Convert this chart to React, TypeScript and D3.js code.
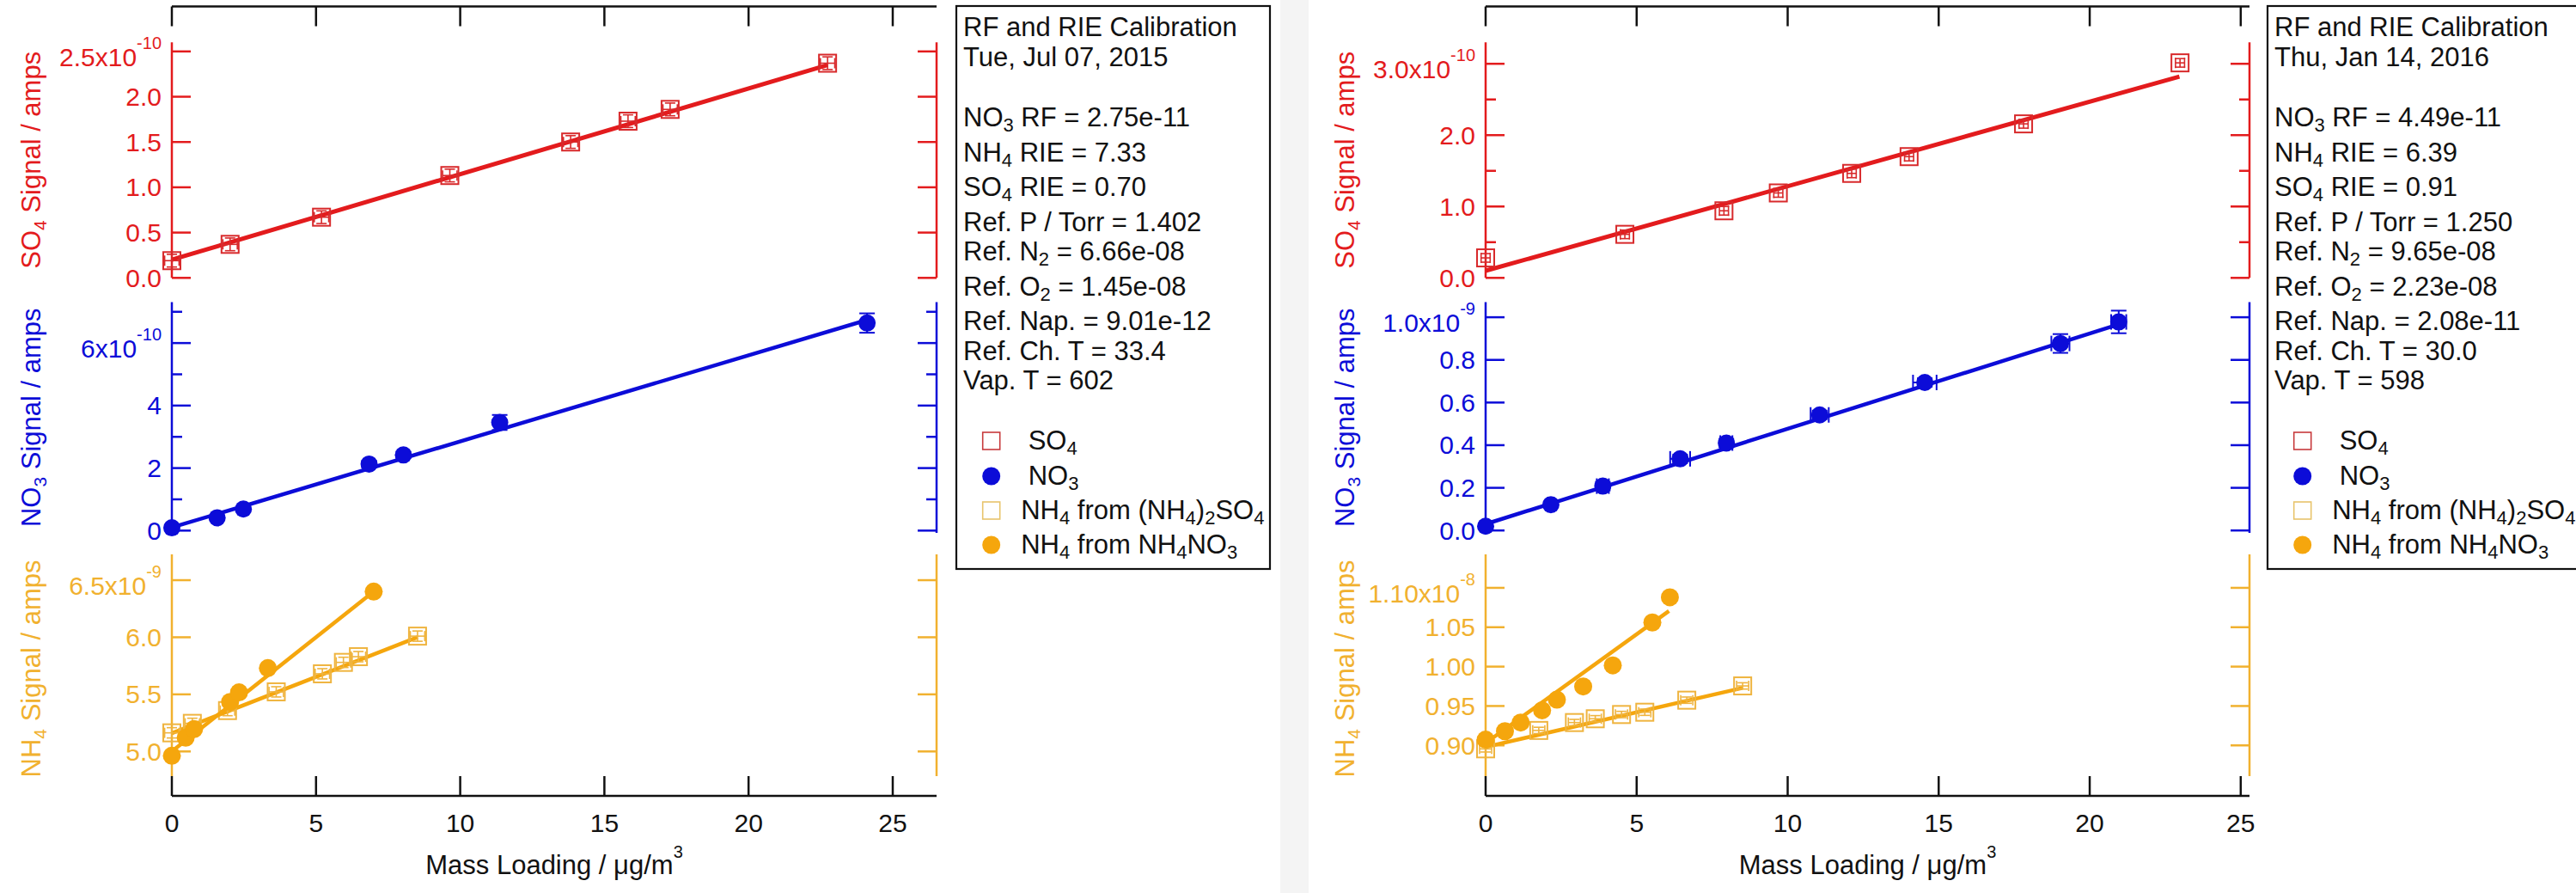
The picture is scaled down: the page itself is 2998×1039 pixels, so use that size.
import React from "react";
import * as d3 from "d3";

// ================= DATA =================
// x = Mass Loading / ug m-3
// ---- Left panel: Tue, Jul 07, 2015 ----
const L_SO4_X = [0.0, 2.02, 5.19, 9.64, 13.83, 15.82, 17.28, 22.74];
const L_SO4_Y = [0.19, 0.37, 0.67, 1.13, 1.5, 1.73, 1.86, 2.37]; // x1e-10 A
const L_SO4_XERR = [0.25, 0.25, 0.25, 0.25, 0.25, 0.25, 0.25, 0.25];
const L_SO4_YERR = [0.07, 0.07, 0.07, 0.07, 0.07, 0.07, 0.07, 0.07];
const L_SO4_FIT_X = [0, 22.74];
const L_SO4_FIT_Y = [0.2, 2.35];

const L_NO3_X = [0.0, 1.57, 2.48, 6.84, 8.03, 11.37, 24.11];
const L_NO3_Y = [0.09, 0.41, 0.69, 2.13, 2.42, 3.46, 6.64]; // x1e-10 A
const L_NO3_XERR = [0.05, 0.05, 0.05, 0.05, 0.05, 0.05, 0.05];
const L_NO3_YERR = [0.05, 0.05, 0.05, 0.1, 0.1, 0.24, 0.31];
const L_NO3_FIT_X = [0, 24.11];
const L_NO3_FIT_Y = [0.1, 6.74];

const L_NH4S_X = [0.0, 0.71, 1.93, 3.62, 5.22, 5.95, 6.47, 8.52];
const L_NH4S_Y = [5.163, 5.246, 5.358, 5.522, 5.68, 5.78, 5.83, 6.01]; // x1e-9 A
const L_NH4S_XERR = [0.25, 0.25, 0.25, 0.25, 0.25, 0.25, 0.25, 0.25];
const L_NH4S_YERR = [0.045, 0.045, 0.045, 0.045, 0.045, 0.045, 0.045, 0.045];
const L_NH4S_FIT_X = [0, 8.52];
const L_NH4S_FIT_Y = [5.16, 6.0];

const L_NH4N_X = [0.0, 0.48, 0.77, 2.02, 2.33, 3.33, 7.0];
const L_NH4N_Y = [4.962, 5.12, 5.196, 5.434, 5.517, 5.73, 6.4]; // x1e-9 A
const L_NH4N_XERR = [0.05, 0.05, 0.05, 0.05, 0.05, 0.05, 0.05];
const L_NH4N_YERR = [0.02, 0.02, 0.02, 0.02, 0.02, 0.02, 0.03];
const L_NH4N_FIT_X = [0, 7.0];
const L_NH4N_FIT_Y = [5.0, 6.4];

// ---- Right panel: Thu, Jan 14, 2016 ----
const R_SO4_X = [0.0, 4.61, 7.89, 9.69, 12.12, 14.02, 17.81, 22.99];
const R_SO4_Y = [0.28, 0.61, 0.94, 1.19, 1.464, 1.699, 2.158, 3.013]; // x1e-10 A
const R_SO4_XERR = [0.15, 0.15, 0.15, 0.15, 0.15, 0.15, 0.15, 0.15];
const R_SO4_YERR = [0.06, 0.06, 0.06, 0.06, 0.06, 0.06, 0.06, 0.06];
const R_SO4_FIT_X = [0, 22.97];
const R_SO4_FIT_Y = [0.1, 2.82];

const R_NO3_X = [0.0, 2.16, 3.88, 6.44, 7.97, 11.06, 14.54, 19.03, 20.96];
const R_NO3_Y = [0.02, 0.121, 0.208, 0.336, 0.41, 0.542, 0.694, 0.877, 0.978]; // x1e-9 A
const R_NO3_XERR = [0.05, 0.1, 0.2, 0.33, 0.2, 0.3, 0.39, 0.3, 0.25];
const R_NO3_YERR = [0.005, 0.01, 0.02, 0.02, 0.02, 0.02, 0.02, 0.044, 0.053];
const R_NO3_FIT_X = [0, 20.96];
const R_NO3_FIT_Y = [0.03, 0.967];

const R_NH4S_X = [0.0, 1.76, 2.94, 3.63, 4.5, 5.27, 6.66, 8.51];
const R_NH4S_Y = [0.8956, 0.919, 0.929, 0.9338, 0.9392, 0.9421, 0.9574, 0.9755]; // x1e-8 A
const R_NH4S_XERR = [0.2, 0.2, 0.2, 0.2, 0.2, 0.2, 0.2, 0.2];
const R_NH4S_YERR = [0.004, 0.004, 0.004, 0.004, 0.004, 0.004, 0.004, 0.004];
const R_NH4S_FIT_X = [0, 8.51];
const R_NH4S_FIT_Y = [0.898, 0.973];

const R_NH4N_X = [0.0, 0.64, 1.16, 1.87, 2.36, 3.23, 4.21, 5.52, 6.1];
const R_NH4N_Y = [0.9073, 0.918, 0.929, 0.9446, 0.958, 0.9748, 1.0016, 1.056, 1.088]; // x1e-8 A
const R_NH4N_XERR = [0.05, 0.05, 0.05, 0.05, 0.05, 0.05, 0.05, 0.05, 0.1];
const R_NH4N_YERR = [0.002, 0.002, 0.002, 0.002, 0.002, 0.002, 0.002, 0.002, 0.004];
const R_NH4N_FIT_X = [0, 6.07];
const R_NH4N_FIT_Y = [0.903, 1.0706];

// ---- Axis ticks and labels ----
const X_TICKS = [0, 5, 10, 15, 20, 25];
const X_LABELS = ["0", "5", "10", "15", "20", "25"];

const L_SO4_TICKS = [0, 0.5, 1.0, 1.5, 2.0, 2.5];
const L_SO4_LABELS = ["0.0", "0.5", "1.0", "1.5", "2.0", "2.5x10^{-10}"];
const L_SO4_MINOR: number[] = [];
const L_NO3_TICKS = [0, 2, 4, 6];
const L_NO3_LABELS = ["0", "2", "4", "6x10^{-10}"];
const L_NO3_MINOR = [1, 3, 5, 7];
const L_NH4_TICKS = [5.0, 5.5, 6.0, 6.5];
const L_NH4_LABELS = ["5.0", "5.5", "6.0", "6.5x10^{-9}"];
const L_NH4_MINOR: number[] = [];

const R_SO4_TICKS = [0, 1, 2, 3];
const R_SO4_LABELS = ["0.0", "1.0", "2.0", "3.0x10^{-10}"];
const R_SO4_MINOR = [0.5, 1.5, 2.5];
const R_NO3_TICKS = [0, 0.2, 0.4, 0.6, 0.8, 1.0];
const R_NO3_LABELS = ["0.0", "0.2", "0.4", "0.6", "0.8", "1.0x10^{-9}"];
const R_NO3_MINOR: number[] = [];
const R_NH4_TICKS = [0.9, 0.95, 1.0, 1.05, 1.1];
const R_NH4_LABELS = ["0.90", "0.95", "1.00", "1.05", "1.10x10^{-8}"];
const R_NH4_MINOR: number[] = [];

// ---- Legend texts ----
const L_HEADER = ["RF and RIE Calibration", "Tue, Jul 07, 2015"];
const L_INFO = [
  "NO_3 RF = 2.75e-11",
  "NH_4 RIE = 7.33",
  "SO_4 RIE = 0.70",
  "Ref. P / Torr = 1.402",
  "Ref. N_2 = 6.66e-08",
  "Ref. O_2 = 1.45e-08",
  "Ref. Nap. = 9.01e-12",
  "Ref. Ch. T = 33.4",
  "Vap. T = 602",
];
const R_HEADER = ["RF and RIE Calibration", "Thu, Jan 14, 2016"];
const R_INFO = [
  "NO_3 RF = 4.49e-11",
  "NH_4 RIE = 6.39",
  "SO_4 RIE = 0.91",
  "Ref. P / Torr = 1.250",
  "Ref. N_2 = 9.65e-08",
  "Ref. O_2 = 2.23e-08",
  "Ref. Nap. = 2.08e-11",
  "Ref. Ch. T = 30.0",
  "Vap. T = 598",
];
const LEGEND_NAMES = ["SO_4", "NO_3", "NH_4 from (NH_4)_2SO_4", "NH_4 from NH_4NO_3"];

// ================= STYLE =================
const FONT = "'Liberation Sans', Arial, Helvetica, sans-serif";
const RED = "#e31b1d";
const RED_MK = "#d82a2c";
const BLUE = "#0c0cd8";
const ORANGE = "#f5a60d";
const ORANGE_AX = "#f1b12f";
const ORANGE_SQ = "#efb43f";
const BLACK = "#111";

// ================= HELPERS =================
type Tok = { t: string; k: "n" | "sub" | "sup" };
function parseRich(s: string): Tok[] {
  const out: Tok[] = [];
  let buf = "";
  let i = 0;
  while (i < s.length) {
    const c = s[i];
    if (c === "_") {
      if (buf) out.push({ t: buf, k: "n" });
      buf = "";
      out.push({ t: s[i + 1], k: "sub" });
      i += 2;
      continue;
    }
    if (c === "^" && s[i + 1] === "{") {
      const j = s.indexOf("}", i);
      if (buf) out.push({ t: buf, k: "n" });
      buf = "";
      out.push({ t: s.slice(i + 2, j), k: "sup" });
      i = j + 1;
      continue;
    }
    buf += c;
    i++;
  }
  if (buf) out.push({ t: buf, k: "n" });
  return out;
}

function Rich(props: {
  s: string;
  x: number;
  y: number;
  fs: number;
  smallFs: number;
  subDy: number;
  supDy: number;
  fill: string;
  anchor?: string;
  transform?: string;
}) {
  const toks = parseRich(props.s);
  let cur = 0;
  return (
    <text
      x={props.x}
      y={props.y}
      fontSize={props.fs}
      fill={props.fill}
      textAnchor={props.anchor || "start"}
      fontFamily={FONT}
      transform={props.transform}
      style={{ whiteSpace: "pre" }}
    >
      {toks.map((tk, i) => {
        const want = tk.k === "sub" ? props.subDy : tk.k === "sup" ? -props.supDy : 0;
        const dy = want - cur;
        cur = want;
        return (
          <tspan key={i} dy={dy} fontSize={tk.k === "n" ? props.fs : props.smallFs}>
            {tk.t}
          </tspan>
        );
      })}
    </text>
  );
}

type Scale = d3.ScaleLinear<number, number>;

function YAxis(props: {
  x: number;
  scale: Scale;
  color: string;
  major: number[];
  minor: number[];
  labels?: string[];
  side: "left" | "right";
}) {
  const { x, scale, color, major, minor, labels, side } = props;
  const dir = side === "left" ? 1 : -1;
  const [r0, r1] = scale.range();
  return (
    <g>
      <g stroke={color} strokeWidth={2.5} fill="none">
        <line x1={x} x2={x} y1={r0} y2={r1} />
        {major.map((v) => (
          <line key={"M" + v} x1={x} x2={x + dir * 22} y1={scale(v)} y2={scale(v)} />
        ))}
        {minor.map((v) => (
          <line key={"m" + v} x1={x} x2={x + dir * 12} y1={scale(v)} y2={scale(v)} />
        ))}
      </g>
      {labels &&
        labels.map((lab, i) => {
          const y = scale(major[i]);
          const exp = lab.includes("^");
          return (
            <Rich
              key={"l" + i}
              s={lab}
              x={x - 12}
              y={y + (exp ? 17 : 10.5)}
              fs={30}
              smallFs={20}
              subDy={6}
              supDy={20}
              fill={color}
              anchor="end"
            />
          );
        })}
    </g>
  );
}

function Series(props: {
  xs: Scale;
  ys: Scale;
  X: number[];
  Y: number[];
  XE: number[];
  YE: number[];
  FX: number[];
  FY: number[];
  color: string;
  mkColor: string;
  marker: "square" | "circle";
  lineW: number;
  r: number;
}) {
  const { xs, ys, X, Y, XE, YE, FX, FY, color, mkColor, marker, lineW, r } = props;
  const line = d3
    .line<number>()
    .x((_, i) => xs(FX[i]))
    .y((d) => ys(d));
  const cap = marker === "square" ? 6 : 9;
  return (
    <g>
      <path d={line(FY) || ""} stroke={color} strokeWidth={lineW} fill="none" />
      <g stroke={mkColor} strokeWidth={marker === "square" ? 1.6 : 2} fill="none">
        {X.map((xv, i) => {
          const cx = xs(xv);
          const cy = ys(Y[i]);
          const y0 = ys(Y[i] - YE[i]);
          const y1 = ys(Y[i] + YE[i]);
          const x0 = xs(xv - XE[i]);
          const x1 = xs(xv + XE[i]);
          return (
            <g key={i}>
              <line x1={cx} x2={cx} y1={y0} y2={y1} />
              <line x1={cx - cap} x2={cx + cap} y1={y0} y2={y0} />
              <line x1={cx - cap} x2={cx + cap} y1={y1} y2={y1} />
              <line x1={x0} x2={x1} y1={cy} y2={cy} />
              <line x1={x0} x2={x0} y1={cy - cap} y2={cy + cap} />
              <line x1={x1} x2={x1} y1={cy - cap} y2={cy + cap} />
            </g>
          );
        })}
      </g>
      {X.map((xv, i) => {
        const cx = xs(xv);
        const cy = ys(Y[i]);
        return marker === "circle" ? (
          <circle key={"c" + i} cx={cx} cy={cy} r={r} fill={mkColor} />
        ) : (
          <rect
            key={"s" + i}
            x={cx - r}
            y={cy - r}
            width={2 * r}
            height={2 * r}
            fill="none"
            stroke={mkColor}
            strokeWidth={2}
          />
        );
      })}
    </g>
  );
}

type AxisCfg = { domain: [number, number]; major: number[]; minor: number[]; labels: string[] };

function Panel(props: {
  x0: number;
  x1: number;
  xMax: number;
  so4: AxisCfg;
  no3: AxisCfg;
  nh4: AxisCfg;
  legendX: number;
  legendW: number;
  header: string[];
  info: string[];
  data: any;
}) {
  const { x0, x1, xMax, so4, no3, nh4, legendX, legendW, header, info, data } = props;
  const xs = d3.scaleLinear().domain([0, xMax]).range([x0, x1]);
  const yS = d3.scaleLinear().domain(so4.domain).range([323.3, 49.3]);
  const yN = d3.scaleLinear().domain(no3.domain).range([620, 351.5]);
  const yA = d3.scaleLinear().domain(nh4.domain).range([903, 645]);
  const xAxisY = 926;
  const topY = 7.5;
  const titleX = x0 - 164;

  // legend lines baselines
  const infoY: number[] = [];
  let yy = 147;
  info.forEach((s, i) => {
    if (i > 0) yy += 34.5 + (info[i - 1].includes("_") ? 6 : 0);
    infoY.push(yy);
  });
  const legSymX = legendX + 40.7;
  const legRowY = [513, 554, 594, 634];
  const LFS = 31;

  return (
    <g>
      {/* top & bottom axes */}
      <g stroke={BLACK} strokeWidth={2.5}>
        <line x1={x0} x2={x1} y1={topY} y2={topY} />
        <line x1={x0} x2={x1} y1={xAxisY} y2={xAxisY} />
        {X_TICKS.map((t) => (
          <g key={t}>
            <line x1={xs(t)} x2={xs(t)} y1={topY} y2={topY + 23} />
            <line x1={xs(t)} x2={xs(t)} y1={xAxisY} y2={xAxisY - 23} />
          </g>
        ))}
      </g>
      {X_TICKS.map((t, i) => (
        <text
          key={"xl" + t}
          x={xs(t)}
          y={968}
          fontSize={30}
          textAnchor="middle"
          fontFamily={FONT}
          fill={BLACK}
        >
          {X_LABELS[i]}
        </text>
      ))}
      <Rich
        s={"Mass Loading / \u03bcg/m^{3}"}
        x={(x0 + x1) / 2}
        y={1017}
        fs={31}
        smallFs={20}
        subDy={6}
        supDy={19}
        fill={BLACK}
        anchor="middle"
      />

      {/* y axes */}
      <YAxis x={x0} scale={yS} color={RED} major={so4.major} minor={so4.minor} labels={so4.labels} side="left" />
      <YAxis x={x1} scale={yS} color={RED} major={so4.major} minor={so4.minor} side="right" />
      <YAxis x={x0} scale={yN} color={BLUE} major={no3.major} minor={no3.minor} labels={no3.labels} side="left" />
      <YAxis x={x1} scale={yN} color={BLUE} major={no3.major} minor={no3.minor} side="right" />
      <YAxis x={x0} scale={yA} color={ORANGE_AX} major={nh4.major} minor={nh4.minor} labels={nh4.labels} side="left" />
      <YAxis x={x1} scale={yA} color={ORANGE_AX} major={nh4.major} minor={nh4.minor} side="right" />

      {/* axis titles */}
      {[
        { s: "SO_4 Signal / amps", c: RED, y: (323.3 + 49.3) / 2 },
        { s: "NO_3 Signal / amps", c: BLUE, y: (620 + 351.5) / 2 },
        { s: "NH_4 Signal / amps", c: ORANGE_AX, y: (903 + 645) / 2 + 4 },
      ].map((t) => (
        <Rich
          key={t.s}
          s={t.s}
          x={0}
          y={0}
          fs={31}
          smallFs={21}
          subDy={7}
          supDy={18}
          fill={t.c}
          anchor="middle"
          transform={`translate(${titleX + 11},${t.y}) rotate(-90)`}
        />
      ))}

      {/* data */}
      <Series xs={xs} ys={yS} {...data.so4} color={RED} mkColor={RED_MK} marker="square" lineW={5} r={10} />
      <Series xs={xs} ys={yN} {...data.no3} color={BLUE} mkColor={BLUE} marker="circle" lineW={4.5} r={10} />
      <Series xs={xs} ys={yA} {...data.nh4s} color={ORANGE} mkColor={ORANGE_SQ} marker="square" lineW={4.5} r={10} />
      <Series xs={xs} ys={yA} {...data.nh4n} color={ORANGE} mkColor={ORANGE} marker="circle" lineW={4.5} r={10.5} />

      {/* legend box */}
      <rect x={legendX} y={7} width={legendW} height={655} fill="white" stroke={BLACK} strokeWidth={2.2} />
      <text x={legendX + 8} y={41.5} fontSize={LFS} fontFamily={FONT} fill={BLACK}>
        {header[0]}
      </text>
      <text x={legendX + 8} y={76.5} fontSize={LFS} fontFamily={FONT} fill={BLACK}>
        {header[1]}
      </text>
      {info.map((s, i) => (
        <Rich key={s} s={s} x={legendX + 8} y={infoY[i]} fs={LFS} smallFs={22} subDy={6} supDy={18} fill={BLACK} />
      ))}
      {/* legend entries */}
      <rect x={legSymX - 10} y={legRowY[0] - 10} width={20} height={20} fill="none" stroke="#c73a3c" strokeWidth={1.6} />
      <circle cx={legSymX} cy={legRowY[1]} r={10.5} fill={BLUE} />
      <rect x={legSymX - 10} y={legRowY[2] - 10} width={20} height={20} fill="none" stroke="#e8c46c" strokeWidth={1.6} />
      <circle cx={legSymX} cy={legRowY[3]} r={10.5} fill={ORANGE} />
      {LEGEND_NAMES.map((s, i) => (
        <Rich
          key={s}
          s={s}
          x={legSymX + (i < 2 ? 43 : 34.5)}
          y={legRowY[i] + 10}
          fs={LFS}
          smallFs={22}
          subDy={6}
          supDy={18}
          fill={BLACK}
        />
      ))}
    </g>
  );
}

export default function App() {
  const leftData = {
    so4: { X: L_SO4_X, Y: L_SO4_Y, XE: L_SO4_XERR, YE: L_SO4_YERR, FX: L_SO4_FIT_X, FY: L_SO4_FIT_Y },
    no3: { X: L_NO3_X, Y: L_NO3_Y, XE: L_NO3_XERR, YE: L_NO3_YERR, FX: L_NO3_FIT_X, FY: L_NO3_FIT_Y },
    nh4s: { X: L_NH4S_X, Y: L_NH4S_Y, XE: L_NH4S_XERR, YE: L_NH4S_YERR, FX: L_NH4S_FIT_X, FY: L_NH4S_FIT_Y },
    nh4n: { X: L_NH4N_X, Y: L_NH4N_Y, XE: L_NH4N_XERR, YE: L_NH4N_YERR, FX: L_NH4N_FIT_X, FY: L_NH4N_FIT_Y },
  };
  const rightData = {
    so4: { X: R_SO4_X, Y: R_SO4_Y, XE: R_SO4_XERR, YE: R_SO4_YERR, FX: R_SO4_FIT_X, FY: R_SO4_FIT_Y },
    no3: { X: R_NO3_X, Y: R_NO3_Y, XE: R_NO3_XERR, YE: R_NO3_YERR, FX: R_NO3_FIT_X, FY: R_NO3_FIT_Y },
    nh4s: { X: R_NH4S_X, Y: R_NH4S_Y, XE: R_NH4S_XERR, YE: R_NH4S_YERR, FX: R_NH4S_FIT_X, FY: R_NH4S_FIT_Y },
    nh4n: { X: R_NH4N_X, Y: R_NH4N_Y, XE: R_NH4N_XERR, YE: R_NH4N_YERR, FX: R_NH4N_FIT_X, FY: R_NH4N_FIT_Y },
  };
  return (
    <svg
      width={2998}
      height={1039}
      viewBox="0 0 2998 1039"
      style={{ position: "absolute", left: 0, top: 0, display: "block", background: "white" }}
    >
      <rect x={0} y={0} width={2998} height={1039} fill="white" />
      <rect x={1490} y={0} width={33} height={1039} fill="#f4f4f4" />
      <Panel
        x0={200}
        x1={1090}
        xMax={26.52}
        so4={{ domain: [0, 2.6], major: L_SO4_TICKS, minor: L_SO4_MINOR, labels: L_SO4_LABELS }}
        no3={{ domain: [-0.073, 7.31], major: L_NO3_TICKS, minor: L_NO3_MINOR, labels: L_NO3_LABELS }}
        nh4={{ domain: [4.784, 6.726], major: L_NH4_TICKS, minor: L_NH4_MINOR, labels: L_NH4_LABELS }}
        legendX={1113}
        legendW={365}
        header={L_HEADER}
        info={L_INFO}
        data={leftData}
      />
      <Panel
        x0={1729}
        x1={2618}
        xMax={25.29}
        so4={{ domain: [0, 3.3], major: R_SO4_TICKS, minor: R_SO4_MINOR, labels: R_SO4_LABELS }}
        no3={{ domain: [-0.0113, 1.071], major: R_NO3_TICKS, minor: R_NO3_MINOR, labels: R_NO3_LABELS }}
        nh4={{ domain: [0.861, 1.1425], major: R_NH4_TICKS, minor: R_NH4_MINOR, labels: R_NH4_LABELS }}
        legendX={2639}
        legendW={366}
        header={R_HEADER}
        info={R_INFO}
        data={rightData}
      />
    </svg>
  );
}
